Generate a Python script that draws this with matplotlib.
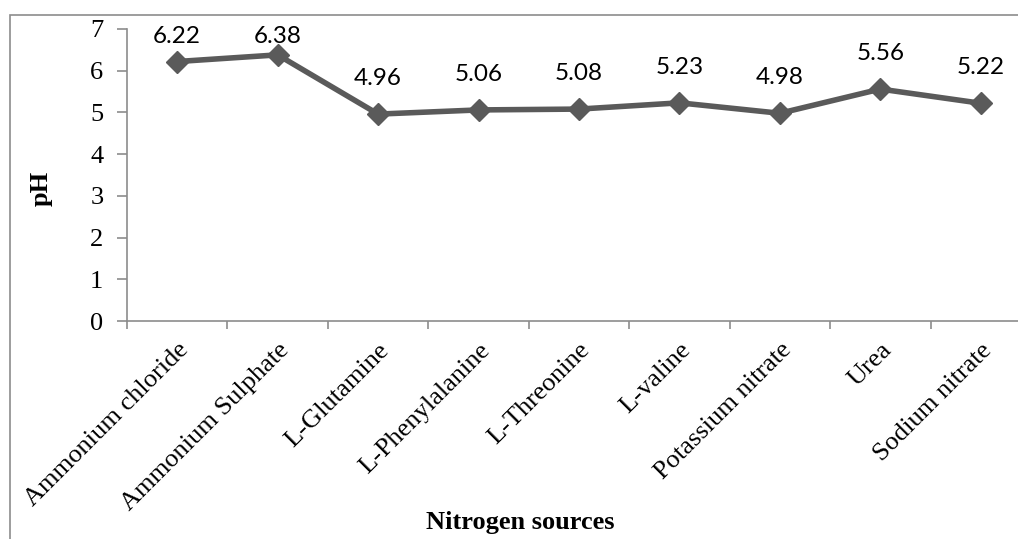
import matplotlib
matplotlib.use("Agg")
import matplotlib.pyplot as plt
from matplotlib.patches import Rectangle
import numpy as np

categories = ["Ammonium chloride", "Ammonium Sulphate", "L-Glutamine", "L-Phenylalanine",
              "L-Threonine", "L-valine", "Potassium nitrate", "Urea", "Sodium nitrate"]
ph_values = [6.22, 6.38, 4.96, 5.06, 5.08, 5.23, 4.98, 5.56, 5.22]
y_ticks = [0, 1, 2, 3, 4, 5, 6, 7]

W, H = 1018, 539
fig = plt.figure(figsize=(W / 100, H / 100), dpi=100)

# outer frame
fig.patches.append(Rectangle((10 / W, -0.05), 1.2, 1 - 15 / H + 0.05, transform=fig.transFigure,
                             fill=False, edgecolor="#8c8c8c", linewidth=1.2))

left, right, bottom, top = 127, 1031, 321, 29
ax = fig.add_axes([left / W, (H - bottom) / H, (right - left) / W, (bottom - top) / H])
ax.patch.set_alpha(0)

x = np.arange(len(categories))
ax.plot(x, ph_values, color="#5a5a5a", linewidth=4, marker="D", markersize=11,
        markerfacecolor="#5a5a5a", markeredgecolor="#5a5a5a", clip_on=False)

px_per_unit = (bottom - top) / 7.0
max_baseline = 6.66  # labels kept inside the plot area
for xi, v in zip(x, ph_values):
    off_px = min(29.0, (max_baseline - v) * px_per_unit)
    ax.annotate(f"{v:.2f}", (xi, v), xytext=(0, off_px * 0.72), textcoords="offset points",
                ha="center", va="baseline", fontsize=17.5, family="Lato", color="black")

ax.set_xlim(-0.5, len(categories) - 0.5)
ax.set_ylim(0, 7)
ax.set_yticks(y_ticks)
ax.set_yticklabels([str(t) for t in y_ticks], fontsize=19, family="Liberation Serif")
ax.set_xticks(np.arange(len(categories) + 1) - 0.5)
ax.set_xticklabels([])
ax.set_xticks(x, minor=True)
ax.set_xticklabels(categories, minor=True, rotation=45, ha="right", va="top",
                   rotation_mode="anchor", fontsize=19, family="Liberation Serif")
ax.tick_params(axis="x", which="minor", length=0, pad=13)
ax.tick_params(axis="x", which="major", length=6, color="#8c8c8c", width=1.2)
ax.tick_params(axis="y", length=7, color="#8c8c8c", width=1.2, pad=10)

for s in ["top", "right"]:
    ax.spines[s].set_visible(False)
for s in ["left", "bottom"]:
    ax.spines[s].set_color("#8c8c8c")
    ax.spines[s].set_linewidth(1.2)

fig.text(41 / W, 1 - 188 / H, "pH", rotation=90, ha="center", va="center",
         fontsize=19, fontweight="bold", family="Liberation Serif")
fig.text(520 / W, 1 - 523 / H, "Nitrogen sources", ha="center", va="center",
         fontsize=19, fontweight="bold", family="Liberation Serif")

fig.savefig("out.png", dpi=100)
